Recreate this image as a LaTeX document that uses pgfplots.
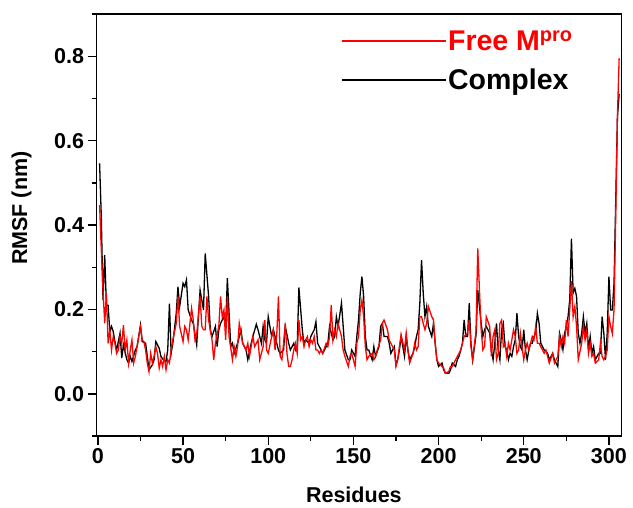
\documentclass[border=0pt]{standalone}
\usepackage{fontspec}
\setmainfont{Liberation Sans}
\usepackage{pgfplots}
\pgfplotsset{compat=1.18}
\begin{document}
\begin{tikzpicture}
\begin{axis}[
  scale only axis, width=525pt, height=422pt,
  xmin=-0.8, xmax=307.5, ymin=-0.1, ymax=0.9,
  xtick={0,50,...,300}, minor xtick={25,75,...,275},
  ytick={0,0.2,0.4,0.6,0.8}, minor ytick={-0.1,0.1,0.3,0.5,0.7,0.9},
  tick pos=left, tick align=outside,
  major tick length=9pt, minor tick length=5pt,
  axis line style={line width=1.5pt},
  every tick/.style={line width=1.3pt, black},
  /pgf/number format/assume math mode=true,
  yticklabel style={/pgf/number format/.cd, fixed, fixed zerofill, precision=1},
  xticklabel style={/pgf/number format/.cd, fixed, precision=0},
  ticklabel style={font=\fontsize{21.5}{23}\selectfont\bfseries},
  xlabel={Residues}, ylabel={RMSF (nm)},
  label style={font=\fontsize{21.5}{23}\selectfont\bfseries},
  xlabel style={at={(axis description cs:0.49,0)}, anchor=north, yshift=-47pt},
  ylabel style={at={(axis description cs:-0.117,0.54)}, anchor=south, rotate=0},
  reverse legend=true,
  legend style={at={(axis description cs:0.466,0.966)}, anchor=north west, draw=none, fill=none,
    font=\fontsize{28.5}{30}\selectfont\bfseries, row sep=13pt, inner sep=0pt,
    nodes={inner xsep=1pt, inner ysep=2pt}},
  legend cell align=left,
  legend image code/.code={\draw[#1, line width=1.6pt] (0pt,0pt) -- (104pt,0pt);},
]
\addplot[black, line width=1.3pt] coordinates {
(1,0.546)(2,0.42)(3,0.222)(4,0.329)(5,0.21)(6,0.21)(7,0.147)(8,0.16)(9,0.148)(10,0.124)
(11,0.104)(12,0.124)(13,0.144)(14,0.085)(15,0.116)(17,0.081)(18,0.073)(19,0.089)(20,0.077)
(22,0.104)(23,0.112)(25,0.163)(26,0.124)(28,0.120)(29,0.089)(30,0.057)(32,0.069)(33,0.081)
(34,0.124)(36,0.108)(37,0.089)(38,0.083)(40,0.077)(41,0.104)(42,0.214)(43,0.096)(44,0.120)
(46,0.191)(47,0.254)(48,0.207)(50,0.262)(51,0.254)(52,0.270)(53,0.199)(55,0.175)(56,0.167)
(58,0.116)(59,0.183)(60,0.246)(62,0.199)(63,0.333)(65,0.231)(66,0.152)(67,0.136)(69,0.160)
(70,0.112)(71,0.152)(72,0.167)(74,0.183)(75,0.160)(76,0.274)(78,0.112)(79,0.120)(80,0.096)
(82,0.120)(83,0.136)(84,0.152)(85,0.120)(87,0.104)(88,0.081)(90,0.120)(91,0.136)(93,0.165)
(94,0.152)(96,0.120)(97,0.160)(98,0.128)(99,0.120)(100,0.183)(102,0.136)(103,0.152)(105,0.120)
(106,0.104)(107,0.096)(109,0.104)(110,0.160)(112,0.120)(113,0.104)(115,0.120)(116,0.104)
(117,0.112)(118,0.252)(120,0.152)(121,0.120)(122,0.128)(124,0.120)(125,0.136)(127,0.152)
(128,0.171)(129,0.120)(131,0.104)(132,0.096)(134,0.112)(135,0.120)(136,0.160)(138,0.128)
(139,0.136)(140,0.183)(141,0.160)(143,0.215)(144,0.160)(145,0.104)(147,0.081)(148,0.081)
(149,0.104)(151,0.089)(152,0.136)(153,0.175)(154,0.238)(155,0.278)(156,0.231)(157,0.136)
(158,0.104)(159,0.104)(161,0.081)(162,0.112)(163,0.089)(165,0.112)(166,0.160)(167,0.167)
(168,0.136)(170,0.136)(171,0.120)(172,0.096)(174,0.112)(175,0.069)(176,0.081)(177,0.104)
(178,0.136)(180,0.089)(181,0.136)(182,0.104)(183,0.081)(185,0.096)(186,0.112)(187,0.136)
(188,0.152)(189,0.215)(190,0.317)(191,0.238)(192,0.183)(193,0.207)(194,0.160)(196,0.136)
(197,0.167)(198,0.120)(199,0.081)(200,0.065)(202,0.073)(203,0.057)(204,0.049)(206,0.049)
(207,0.057)(208,0.073)(210,0.065)(211,0.081)(212,0.089)(213,0.104)(214,0.120)(215,0.175)
(216,0.136)(217,0.136)(218,0.215)(219,0.120)(220,0.080)(222,0.140)(223,0.246)(224,0.207)
(225,0.167)(226,0.136)(227,0.152)(228,0.160)(230,0.144)(231,0.104)(232,0.081)(233,0.120)
(234,0.167)(235,0.104)(236,0.081)(237,0.152)(238,0.167)(239,0.112)(240,0.104)(241,0.081)
(242,0.096)(243,0.089)(244,0.112)(245,0.128)(246,0.191)(247,0.136)(248,0.112)(249,0.104)
(250,0.152)(251,0.104)(252,0.081)(253,0.104)(254,0.120)(255,0.120)(256,0.136)(257,0.144)
(258,0.191)(259,0.167)(260,0.120)(261,0.112)(262,0.104)(263,0.100)(264,0.096)(265,0.081)
(267,0.096)(268,0.081)(270,0.065)(271,0.144)(272,0.128)(273,0.105)(274,0.144)(275,0.160)
(276,0.183)(277,0.223)(278,0.368)(279,0.239)(280,0.250)(281,0.231)(282,0.144)(283,0.120)
(284,0.144)(285,0.183)(286,0.144)(287,0.167)(288,0.105)(289,0.136)(290,0.096)(291,0.112)
(292,0.081)(294,0.096)(295,0.096)(296,0.183)(297,0.144)(298,0.081)(299,0.144)(300,0.278)
(301,0.199)(302,0.199)(303,0.262)(304,0.459)(305,0.656)(306,0.711)
};
\addlegendentry{Complex}
\addplot[red, line width=1.3pt] coordinates {
(1,0.447)(2,0.341)(3,0.246)(4,0.167)(5,0.238)(6,0.120)(7,0.151)(8,0.104)(9,0.136)(10,0.120)
(11,0.096)(12,0.104)(13,0.136)(14,0.120)(15,0.163)(16,0.104)(17,0.128)(18,0.073)(19,0.104)
(20,0.128)(21,0.073)(22,0.089)(23,0.112)(24,0.136)(25,0.159)(26,0.128)(27,0.124)(28,0.104)
(29,0.073)(30,0.053)(31,0.096)(32,0.073)(33,0.089)(34,0.112)(35,0.096)(36,0.061)(37,0.081)
(38,0.065)(39,0.089)(40,0.057)(41,0.081)(42,0.073)(43,0.104)(44,0.128)(46,0.167)(47,0.231)
(48,0.160)(50,0.124)(51,0.160)(52,0.152)(53,0.128)(55,0.203)(56,0.175)(57,0.128)(58,0.140)
(60,0.231)(61,0.160)(62,0.152)(63,0.152)(64,0.231)(65,0.175)(67,0.128)(68,0.080)(69,0.120)
(71,0.160)(72,0.231)(73,0.183)(74,0.199)(75,0.128)(76,0.231)(77,0.136)(79,0.081)(80,0.112)
(81,0.089)(82,0.112)(83,0.167)(85,0.120)(87,0.104)(88,0.120)(89,0.089)(91,0.136)(92,0.112)
(94,0.128)(95,0.081)(97,0.112)(98,0.175)(99,0.104)(100,0.096)(102,0.136)(103,0.152)(104,0.104)
(105,0.140)(106,0.231)(107,0.089)(108,0.081)(109,0.120)(110,0.167)(111,0.096)(112,0.065)
(113,0.065)(114,0.081)(115,0.104)(116,0.120)(117,0.096)(118,0.175)(119,0.128)(120,0.136)
(121,0.112)(122,0.128)(123,0.136)(124,0.112)(125,0.128)(126,0.120)(127,0.136)(128,0.104)
(129,0.104)(130,0.096)(131,0.104)(132,0.096)(134,0.120)(135,0.112)(136,0.136)(137,0.211)
(138,0.128)(139,0.152)(140,0.136)(141,0.167)(143,0.136)(144,0.104)(145,0.089)(147,0.065)
(148,0.089)(149,0.096)(151,0.065)(152,0.120)(153,0.136)(154,0.199)(155,0.222)(156,0.183)
(157,0.112)(158,0.081)(159,0.089)(161,0.096)(162,0.081)(163,0.089)(164,0.104)(166,0.128)
(167,0.167)(168,0.175)(170,0.152)(171,0.128)(172,0.120)(174,0.104)(175,0.065)(176,0.081)
(177,0.112)(178,0.140)(180,0.104)(181,0.144)(182,0.104)(183,0.073)(185,0.096)(186,0.120)
(187,0.104)(188,0.112)(189,0.183)(190,0.183)(191,0.167)(192,0.152)(193,0.167)(194,0.207)
(196,0.183)(197,0.175)(198,0.120)(199,0.081)(200,0.073)(202,0.065)(203,0.061)(204,0.049)
(206,0.053)(207,0.065)(208,0.065)(210,0.081)(211,0.089)(212,0.096)(213,0.104)(215,0.136)
(216,0.140)(217,0.144)(218,0.175)(219,0.112)(220,0.081)(222,0.150)(223,0.345)(224,0.246)
(225,0.152)(226,0.104)(227,0.112)(228,0.183)(230,0.160)(231,0.089)(232,0.136)(233,0.152)
(234,0.081)(235,0.096)(236,0.167)(237,0.175)(238,0.112)(239,0.120)(240,0.089)(241,0.120)
(242,0.104)(243,0.128)(244,0.152)(245,0.136)(246,0.096)(247,0.104)(248,0.144)(249,0.112)
(250,0.081)(251,0.104)(252,0.120)(253,0.104)(254,0.120)(255,0.136)(256,0.128)(257,0.160)
(258,0.120)(259,0.120)(260,0.112)(261,0.104)(262,0.096)(263,0.104)(264,0.089)(265,0.073)
(267,0.096)(268,0.073)(270,0.089)(271,0.136)(272,0.112)(273,0.136)(274,0.120)(275,0.175)
(276,0.136)(277,0.199)(278,0.267)(279,0.183)(280,0.207)(281,0.160)(282,0.081)(284,0.120)
(285,0.160)(286,0.128)(287,0.152)(288,0.096)(289,0.120)(290,0.089)(291,0.096)(292,0.073)
(294,0.081)(295,0.120)(296,0.089)(297,0.081)(298,0.089)(299,0.104)(300,0.183)(301,0.160)
(302,0.143)(303,0.200)(304,0.420)(305,0.660)(306,0.795)
};
\addlegendentry{\textcolor{red}{Free M\textsuperscript{pro}}}
\end{axis}
\path (current axis.south west) ++(-96.5pt,-71pt) coordinate (bbA);
\path (current axis.north east) ++(11.3pt,14pt) coordinate (bbB);
\pgfresetboundingbox
\path[use as bounding box] (bbA) rectangle (bbB);
\end{tikzpicture}
\end{document}
